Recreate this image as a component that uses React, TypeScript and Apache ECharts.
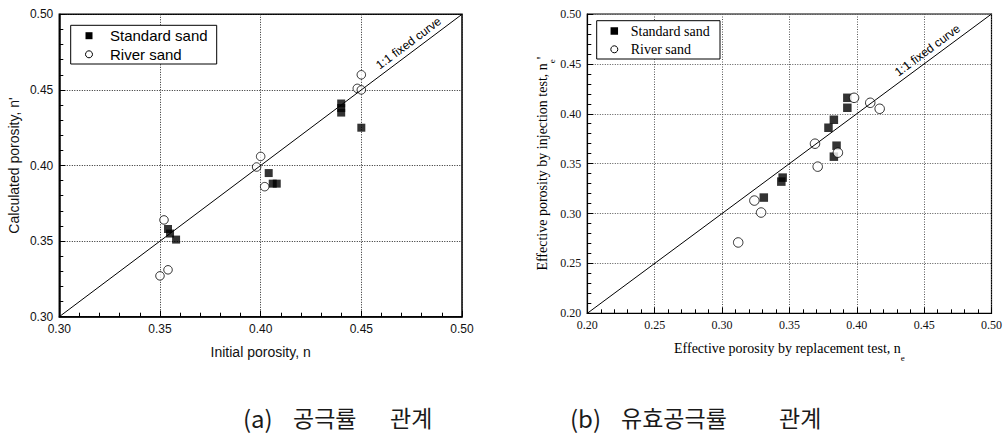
import React, { useEffect, useRef } from "react";
import * as echarts from "echarts";

// ---------- data ----------
const seriesNames = ["Standard sand", "River sand"];
const fitLabel = "1:1 fixed curve";

// (a) porosity relation
const leftTicks = [0.3, 0.35, 0.4, 0.45, 0.5];
const leftStdX = [0.440, 0.440, 0.440, 0.450, 0.404, 0.406, 0.408, 0.354, 0.355, 0.358];
const leftStdY = [0.441, 0.438, 0.435, 0.425, 0.395, 0.388, 0.388, 0.358, 0.355, 0.351];
const leftRiverX = [0.450, 0.448, 0.450, 0.400, 0.398, 0.402, 0.352, 0.354, 0.350];
const leftRiverY = [0.460, 0.451, 0.450, 0.406, 0.399, 0.386, 0.364, 0.331, 0.327];
const leftXName = "Initial porosity, n";
const leftYName = "Calculated porosity, n'";

// (b) effective porosity relation
const rightTicks = [0.2, 0.25, 0.3, 0.35, 0.4, 0.45, 0.5];
const rightStdX = [0.393, 0.393, 0.383, 0.379, 0.385, 0.383, 0.345, 0.344, 0.331];
const rightStdY = [0.416, 0.406, 0.394, 0.386, 0.368, 0.357, 0.336, 0.332, 0.316];
const rightRiverX = [0.398, 0.410, 0.417, 0.369, 0.386, 0.371, 0.324, 0.329, 0.312];
const rightRiverY = [0.416, 0.411, 0.405, 0.370, 0.361, 0.347, 0.313, 0.301, 0.271];
const rightXName = "Effective porosity by replacement test, n";
const rightYName = "Effective porosity by injection test, n";
const subE = "e";

const captions = ["(a)", "공극률", "관계", "(b)", "유효공극률", "관계"];

const zip = (xs: number[], ys: number[]) => xs.map((x, i) => [x, ys[i]]);

const SANS = "'Liberation Sans', Arial, sans-serif";
const SERIF = "'Liberation Serif', 'Times New Roman', serif";
const CJK = "'Noto Sans CJK KR', sans-serif";

function makeAxis(
  gridIndex: number,
  ticks: number[],
  font: string,
  lineWidth: number,
  splitColor: string,
  extra: any
) {
  return {
    type: "value",
    gridIndex,
    min: ticks[0],
    max: ticks[ticks.length - 1],
    interval: 0.05,
    nameLocation: "middle",
    axisLine: { show: true, onZero: false, lineStyle: { color: "#000", width: lineWidth } },
    axisTick: { show: true, inside: true, length: 6, lineStyle: { color: "#000", width: 1 } },
    minorTick: { show: true, splitNumber: 5, length: 4, lineStyle: { color: "#000", width: 1 } },
    splitLine: { show: true, lineStyle: { color: splitColor, width: 1, type: [1, 1.5] } },
    axisLabel: {
      formatter: (v: number) => v.toFixed(2),
      fontFamily: font,
      fontSize: 12,
      color: "#111",
      margin: 6,
    },
    ...extra,
  };
}

function fitMarkLine(ticks: number[], font: string, dist: number[]) {
  const lo = ticks[0];
  const hi = ticks[ticks.length - 1];
  return {
    silent: true,
    symbol: ["none", "none"],
    lineStyle: { color: "#000", width: 1, type: "solid" },
    label: {
      show: true,
      position: "insideEndTop",
      formatter: fitLabel,
      fontFamily: font,
      fontSize: 12,
      color: "#000",
      distance: dist,
    },
    emphasis: { disabled: true },
    data: [[{ coord: [lo, lo] }, { coord: [hi, hi] }]],
  };
}

function legendGraphic(
  x: number,
  y: number,
  w: number,
  h: number,
  markerX: number,
  rowY: number[],
  textX: number,
  font: string,
  fontSize: number,
  sq: number,
  r: number
) {
  return [
    {
      type: "rect",
      shape: { x, y, width: w, height: h },
      style: { fill: "#fff", stroke: "#000", lineWidth: 1 },
      z: 10,
    },
    {
      type: "rect",
      shape: { x: markerX - sq / 2, y: rowY[0] - sq / 2, width: sq, height: sq },
      style: { fill: "#000" },
      z: 11,
    },
    {
      type: "circle",
      shape: { cx: markerX, cy: rowY[1], r },
      style: { fill: "#fff", stroke: "#000", lineWidth: 1 },
      z: 11,
    },
    {
      type: "text",
      x: textX,
      y: rowY[0],
      style: { text: seriesNames[0], fontFamily: font, fontSize, fill: "#000", verticalAlign: "middle" },
      z: 11,
    },
    {
      type: "text",
      x: textX,
      y: rowY[1],
      style: { text: seriesNames[1], fontFamily: font, fontSize, fill: "#000", verticalAlign: "middle" },
      z: 11,
    },
  ];
}

export default function App() {
  const ref = useRef<HTMLDivElement>(null);

  useEffect(() => {
    if (!ref.current) return;
    const chart = echarts.init(ref.current, null, { renderer: "svg" });

    const subRich = {
      a: { fontFamily: SERIF, fontSize: 14, color: "#000" },
      s: { fontFamily: SERIF, fontSize: 9, color: "#000", padding: [19, 0, 0, 0] },
    };

    const captionStyle = (text: string, i: number) => ({
      text,
      fontFamily: CJK,
      fontSize: i % 3 === 0 ? 24 : 23,
      fill: "#1a1a1a",
      verticalAlign: "middle",
    });
    const capX = [243, 293, 390, 570, 621, 779];

    const option: any = {
      animation: false,
      backgroundColor: "#fff",
      grid: [
        {
          left: 59.3,
          top: 14.3,
          width: 402.7,
          height: 302.4,
          show: true,
          borderColor: "#000",
          borderWidth: 1.5,
          backgroundColor: "transparent",
        },
        {
          left: 587.3,
          top: 14,
          width: 405,
          height: 299.3,
          show: true,
          borderColor: "#000",
          borderWidth: 1.2,
          backgroundColor: "transparent",
        },
      ],
      xAxis: [
        makeAxis(0, leftTicks, SANS, 1.5, "#222", {
          name: leftXName,
          nameGap: 28,
          nameTextStyle: { fontFamily: SANS, fontSize: 14, color: "#111" },
        }),
        makeAxis(1, rightTicks, SERIF, 1.2, "#555", {
          name: `{a|${rightXName}}{s|${subE}}`,
          nameGap: 21,
          nameTextStyle: { rich: subRich },
        }),
      ],
      yAxis: [
        makeAxis(0, leftTicks, SANS, 1.5, "#222", {
          name: leftYName,
          nameGap: 38,
          nameTextStyle: { fontFamily: SANS, fontSize: 14, color: "#111" },
        }),
        makeAxis(1, rightTicks, SERIF, 1.2, "#555", {
          name: `{a|${rightYName}}{s|${subE}}{a|'}`,
          nameGap: 30,
          nameTextStyle: { rich: subRich },
        }),
      ],
      series: [
        {
          name: seriesNames[0],
          type: "scatter",
          xAxisIndex: 0,
          yAxisIndex: 0,
          symbol: "rect",
          symbolSize: 8,
          itemStyle: { color: "#000" },
          data: zip(leftStdX, leftStdY),
          markLine: fitMarkLine(leftTicks, SANS, [21, 3]),
          z: 3,
        },
        {
          name: seriesNames[1],
          type: "scatter",
          xAxisIndex: 0,
          yAxisIndex: 0,
          symbol: "circle",
          symbolSize: 8.5,
          itemStyle: { color: "#fff", borderColor: "#000", borderWidth: 1 },
          data: zip(leftRiverX, leftRiverY),
          z: 4,
        },
        {
          name: seriesNames[0],
          type: "scatter",
          xAxisIndex: 1,
          yAxisIndex: 1,
          symbol: "rect",
          symbolSize: 8.5,
          itemStyle: { color: "#000" },
          data: zip(rightStdX, rightStdY),
          markLine: fitMarkLine(rightTicks, SANS, [34, 3]),
          z: 3,
        },
        {
          name: seriesNames[1],
          type: "scatter",
          xAxisIndex: 1,
          yAxisIndex: 1,
          symbol: "circle",
          symbolSize: 9.5,
          itemStyle: { color: "#fff", borderColor: "#000", borderWidth: 1 },
          data: zip(rightRiverX, rightRiverY),
          z: 4,
        },
      ],
      graphic: [
        ...legendGraphic(70.7, 25.3, 146, 38.7, 89, [35.7, 54.3], 110, SANS, 15, 7, 3.5),
        ...legendGraphic(596.7, 20.7, 123.3, 38.3, 614.3, [31, 49.3], 630.7, SERIF, 14, 7.5, 3.5),
        ...captions.map((c, i) => ({
          type: "text",
          x: capX[i],
          y: 417,
          style: captionStyle(c, i),
        })),
      ],
    };

    chart.setOption(option);
    return () => chart.dispose();
  }, []);

  return (
    <div
      ref={ref}
      style={{ position: "absolute", left: 0, top: 0, width: 1005, height: 435 }}
    />
  );
}
